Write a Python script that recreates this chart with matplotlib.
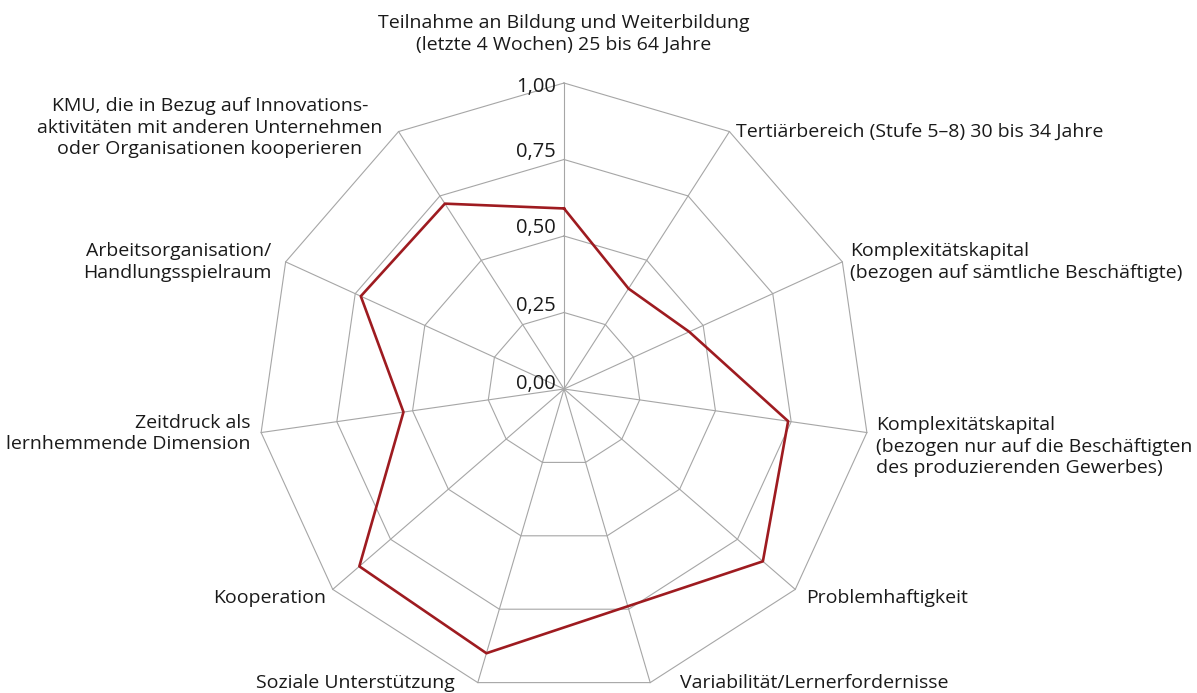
import numpy as np
import matplotlib
matplotlib.use("Agg")
import matplotlib.pyplot as plt
from matplotlib.transforms import offset_copy

plt.rcParams["font.family"] = ["Open Sans", "DejaVu Sans"]

# --- data ---
categories = [
    "Teilnahme an Bildung und Weiterbildung\n(letzte 4 Wochen) 25 bis 64 Jahre",
    "Tertiärbereich (Stufe 5–8) 30 bis 34 Jahre",
    "Komplexitätskapital\n(bezogen auf sämtliche Beschäftigte)",
    "Komplexitätskapital\n(bezogen nur auf die Beschäftigten\ndes produzierenden Gewerbes)",
    "Problemhaftigkeit",
    "Variabilität/Lernerfordernisse",
    "Soziale Unterstützung",
    "Kooperation",
    "Zeitdruck als\nlernhemmende Dimension",
    "Arbeitsorganisation/\nHandlungsspielraum",
    "KMU, die in Bezug auf Innovations-\naktivitäten mit anderen Unternehmen\noder Organisationen kooperieren",
]
values = [0.59, 0.39, 0.45, 0.74, 0.86, 0.74, 0.90, 0.885, 0.53, 0.73, 0.72]
ring_values = [0.25, 0.50, 0.75, 1.00]
tick_values = [0.00, 0.25, 0.50, 0.75, 1.00]
tick_labels = ["0,00", "0,25", "0,50", "0,75", "1,00"]

grid_color = "#a6a6a6"
line_color = "#9e1b20"

n = len(categories)
theta = np.linspace(0, 2 * np.pi, n, endpoint=False)
theta_closed = np.append(theta, theta[0])

# --- figure / polar axes ---
W, H = 1197, 693
fig = plt.figure(figsize=(W / 100, H / 100), dpi=100)
cx, cy, R = 564, 389, 306
ax = fig.add_axes([(cx - R) / W, (H - cy - R) / H, 2 * R / W, 2 * R / H],
                  projection="polar")
ax.set_theta_zero_location("N")
ax.set_theta_direction(-1)
ax.set_ylim(0, 1)
ax.grid(False)
ax.spines["polar"].set_visible(False)
ax.set_xticks([])
ax.set_yticks([])
ax.patch.set_visible(False)

# --- polygon grid ---
for rv in ring_values:
    ax.plot(theta_closed, [rv] * (n + 1), color=grid_color, lw=0.8, clip_on=False, zorder=1)
for t in theta:
    ax.plot([t, t], [0, 1], color=grid_color, lw=0.8, clip_on=False, zorder=1)

# --- data line ---
ax.plot(theta_closed, values + values[:1], color=line_color, lw=1.9, clip_on=False, zorder=3)

# --- value labels on the top spoke ---
tick_nudge = [5, 7, 8, 8, -4]
for tv, tl, nd in zip(tick_values, tick_labels, tick_nudge):
    tr = offset_copy(ax.transData, fig=fig, x=-8, y=nd, units="dots")
    ax.text(0, tv, tl, transform=tr, ha="right", va="center", fontsize=14.5, color="#1a1a1a")

# --- category labels ---
# (dx, dy, ha, multialignment) in pixels relative to the outer vertex
label_pos = [
    (0, 49, "center", "center"),
    (7, 0, "left", "left"),
    (8, 0, "left", "left"),
    (9, -14, "left", "left"),
    (11, -9, "left", "left"),
    (30, 0, "left", "left"),
    (-23, 0, "right", "right"),
    (-7, -9, "right", "right"),
    (-11, -1, "right", "right"),
    (-14, 0, "right", "right"),
    (-16, 4, "right", "center"),
]
for t, lab, (dx, dy, ha, ma) in zip(theta, categories, label_pos):
    tr = offset_copy(ax.transData, fig=fig, x=dx, y=dy, units="dots")
    ax.text(t, 1.0, lab, transform=tr, ha=ha, va="center", multialignment=ma,
            fontsize=14, color="#1a1a1a", linespacing=1.27)

fig.savefig("out.png", dpi=100)
plt.close(fig)
